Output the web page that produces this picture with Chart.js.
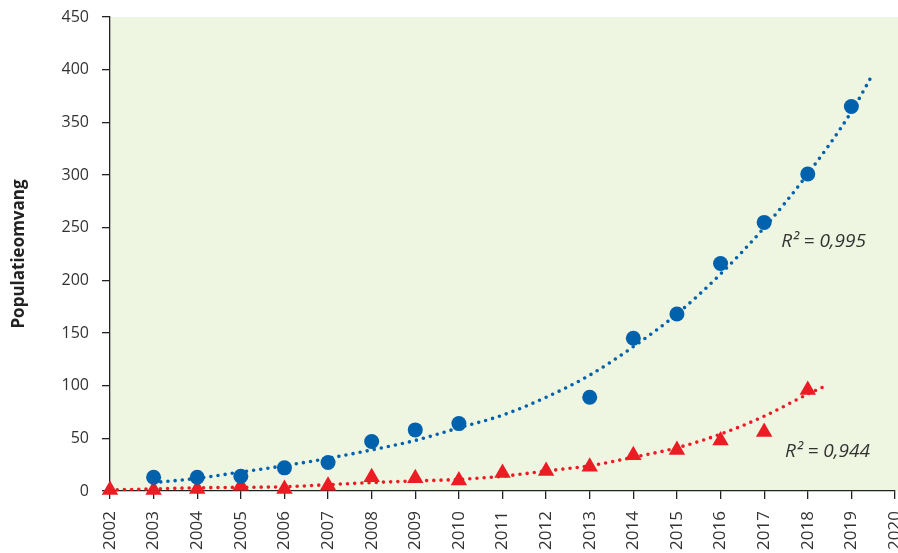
<!DOCTYPE html>
<html>
<head>
<meta charset="utf-8">
<script src="https://cdn.jsdelivr.net/npm/chart.js@4"></script>
<style>
  html, body { margin: 0; padding: 0; background: #ffffff; }
  #wrap { width: 898px; height: 553px; }
</style>
</head>
<body>
<div id="wrap"><canvas id="c" width="898" height="553"></canvas></div>
<script>
// ---- data ----
const blueYears  = [2003, 2004, 2005, 2006, 2007, 2008, 2009, 2010, 2013, 2014, 2015, 2016, 2017, 2018, 2019];
const blueValues = [13, 13, 14, 22, 27, 47, 58, 64, 89, 145, 168, 216, 255, 301, 365];

const redYears  = [2002, 2003, 2004, 2005, 2006, 2007, 2008, 2009, 2010, 2011, 2012, 2013, 2014, 2015, 2016, 2017, 2018];
const redValues = [1, 1, 2, 5, 2, 5, 13, 12, 10, 17, 19, 23, 34, 39, 48, 56, 96];

// trendlines
const blueTrendYears  = [2003, 2004, 2005, 2006, 2007, 2008, 2009, 2010, 2011, 2012, 2013, 2014, 2015, 2016, 2017, 2018, 2019, 2019.48];
const blueTrendValues = [8, 12, 18, 24, 31, 39, 48, 60, 72, 89, 110, 137, 168, 206, 250, 301, 360, 395];
const redTrendYears  = [2002, 2003, 2004, 2005, 2006, 2007, 2008, 2009, 2010, 2011, 2012, 2013, 2014, 2015, 2016, 2017, 2018, 2018.42];
const redTrendValues = [1, 2, 3, 3.5, 4, 6, 8, 9.5, 11, 14, 19, 24, 32, 41, 54, 71, 92, 100];

const r2Labels = ['R² = 0,995', 'R² = 0,944'];
const yTitle = 'Populatieomvang';
const xMin = 2002, xMax = 2020, yMin = 0, yMax = 450;

// ---- styles ----
const BLUE = '#0061AC';
const RED = '#EC1C24';
const BG = '#EEF5E1';

const toXY = (xs, ys) => xs.map((x, i) => ({ x: x, y: ys[i] }));

const bgPlugin = {
  id: 'plotBg',
  beforeDraw(chart) {
    const { ctx, chartArea } = chart;
    ctx.save();
    ctx.fillStyle = BG;
    ctx.fillRect(chartArea.left, chartArea.top, chart.width - chartArea.left, chartArea.bottom - chartArea.top);
    ctx.restore();
  }
};

// let the plot area run to near the right edge (last label clipped, as in the original)
const stretchPlugin = {
  id: 'stretchRight',
  afterLayout(chart) {
    const x = chart.scales.x;
    const newRight = chart.width - 3;
    const d = newRight - chart.chartArea.right;
    chart.chartArea.right = newRight;
    chart.chartArea.width = newRight - chart.chartArea.left;
    x.right = newRight;
    x.width += d;
    x.configure();
  }
};

const r2Pos = [{ x: 2017.39, y: 237 }, { x: 2017.48, y: 37 }];
const r2Plugin = {
  id: 'r2',
  afterDatasetsDraw(chart) {
    const { ctx, scales } = chart;
    ctx.save();
    ctx.font = 'italic 19px "Open Sans"';
    ctx.fillStyle = '#333333';
    ctx.textBaseline = 'middle';
    ctx.textAlign = 'left';
    r2Labels.forEach((t, i) => {
      ctx.fillText(t, scales.x.getPixelForValue(r2Pos[i].x), scales.y.getPixelForValue(r2Pos[i].y));
    });
    ctx.restore();
  }
};

new Chart(document.getElementById('c'), {
  type: 'scatter',
  data: {
    datasets: [
      {
        label: 'trend blauw',
        data: toXY(blueTrendYears, blueTrendValues),
        showLine: true,
        borderColor: BLUE,
        borderWidth: 3.6,
        borderDash: [0, 7.2],
        borderCapStyle: 'round',
        cubicInterpolationMode: 'monotone',
        pointRadius: 0,
        fill: false
      },
      {
        label: 'trend rood',
        data: toXY(redTrendYears, redTrendValues),
        showLine: true,
        borderColor: RED,
        borderWidth: 3.6,
        borderDash: [0, 7.2],
        borderCapStyle: 'round',
        cubicInterpolationMode: 'monotone',
        pointRadius: 0,
        fill: false,
        clip: false
      },
      {
        label: 'blauw',
        data: toXY(blueYears, blueValues),
        pointStyle: 'circle',
        pointRadius: 7.5,
        backgroundColor: BLUE,
        borderColor: BLUE,
        borderWidth: 0,
        clip: false
      },
      {
        label: 'rood',
        data: toXY(redYears, redValues),
        pointStyle: 'triangle',
        pointRadius: 9.5,
        backgroundColor: RED,
        borderColor: RED,
        borderWidth: 0,
        clip: false
      }
    ]
  },
  options: {
    responsive: false,
    animation: false,
    layout: { padding: { top: 17, right: 3, left: 0, bottom: 0 } },
    plugins: {
      legend: { display: false },
      tooltip: { enabled: false }
    },
    scales: {
      x: {
        type: 'linear',
        min: xMin,
        max: xMax,
        afterFit(s) { s.height = 62; s.paddingRight = 0; s.paddingLeft = 0; },
        ticks: {
          stepSize: 1,
          minRotation: 90,
          maxRotation: 90,
          autoSkip: false,
          padding: 12,
          color: '#333333',
          font: { family: '"Open Sans"', size: 17 },
          callback: v => String(v)
        },
        grid: { drawOnChartArea: false, drawTicks: true, tickLength: 8, color: '#222222', lineWidth: 1.3 },
        border: { color: '#222222', width: 1.3 }
      },
      y: {
        min: yMin,
        max: yMax,
        afterFit(s) { s.width = 110; s.paddingTop = 0; s.paddingBottom = 0; },
        ticks: {
          stepSize: 50,
          padding: 13,
          color: '#333333',
          font: { family: '"Open Sans"', size: 16 }
        },
        title: {
          display: true,
          text: yTitle,
          color: '#222222',
          font: { family: '"Open Sans"', size: 17, weight: 'bold' },
          padding: { top: 9, bottom: 0 }
        },
        grid: { drawOnChartArea: false, drawTicks: true, tickLength: 8, color: '#222222', lineWidth: 1.3 },
        border: { color: '#222222', width: 1.3 }
      }
    }
  },
  plugins: [bgPlugin, stretchPlugin, r2Plugin]
});
</script>
</body>
</html>
